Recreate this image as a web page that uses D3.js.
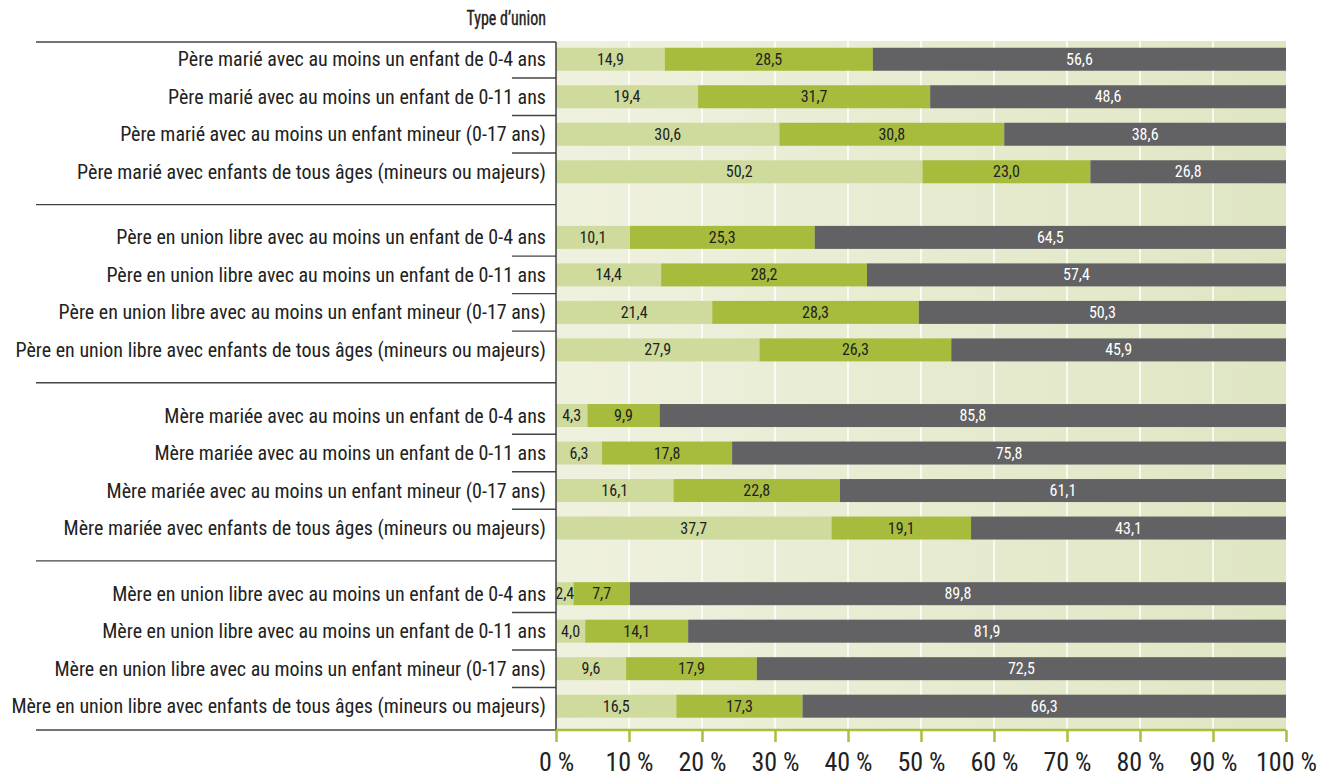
<!DOCTYPE html>
<html>
<head>
<meta charset="utf-8">
<script src="https://cdn.jsdelivr.net/npm/d3@7"></script>
<style>
  body { margin: 0; background: #fff; }
  text { font-family: "Liberation Sans Narrow", "Arial Narrow", "Roboto Condensed", sans-serif; }
</style>
</head>
<body>
<div id="chart"></div>
<script>
// Categories (rows, top to bottom)
var labels = [
  "Père marié avec au moins un enfant de 0-4 ans",
  "Père marié avec au moins un enfant de 0-11 ans",
  "Père marié avec au moins un enfant mineur (0-17 ans)",
  "Père marié avec enfants de tous âges (mineurs ou majeurs)",
  "Père en union libre avec au moins un enfant de 0-4 ans",
  "Père en union libre avec au moins un enfant de 0-11 ans",
  "Père en union libre avec au moins un enfant mineur (0-17 ans)",
  "Père en union libre avec enfants de tous âges (mineurs ou majeurs)",
  "Mère mariée avec au moins un enfant de 0-4 ans",
  "Mère mariée avec au moins un enfant de 0-11 ans",
  "Mère mariée avec au moins un enfant mineur (0-17 ans)",
  "Mère mariée avec enfants de tous âges (mineurs ou majeurs)",
  "Mère en union libre avec au moins un enfant de 0-4 ans",
  "Mère en union libre avec au moins un enfant de 0-11 ans",
  "Mère en union libre avec au moins un enfant mineur (0-17 ans)",
  "Mère en union libre avec enfants de tous âges (mineurs ou majeurs)"
];

// Series values (%)
var serieA = [14.9, 19.4, 30.6, 50.2, 10.1, 14.4, 21.4, 27.9, 4.3, 6.3, 16.1, 37.7, 2.4, 4.0, 9.6, 16.5];
var serieB = [28.5, 31.7, 30.8, 23.0, 25.3, 28.2, 28.3, 26.3, 9.9, 17.8, 22.8, 19.1, 7.7, 14.1, 17.9, 17.3];
var serieC = [56.6, 48.6, 38.6, 26.8, 64.5, 57.4, 50.3, 45.9, 85.8, 75.8, 61.1, 43.1, 89.8, 81.9, 72.5, 66.3];

var xTicks = [0, 10, 20, 30, 40, 50, 60, 70, 80, 90, 100];
var axisTitle = "Type d’union";

var rowsPerGroup = 4;
var groupStep = 4.75; // row units between group starts

var svgWidth = 1325, svgHeight = 776;
var plot = { left: 556, right: 1286, top: 42, bottom: 730 };

var colors = { a: "#cfdb9d", b: "#a7bc3d", c: "#626264" };
var textColors = { a: "#222", b: "#222", c: "#fff" };

var data = labels.map((l, i) => ({
  label: l, a: serieA[i], b: serieB[i], c: serieC[i],
  pos: Math.floor(i / rowsPerGroup) * groupStep + (i % rowsPerGroup)
}));

var svg = d3.select("#chart").append("svg")
  .attr("width", svgWidth).attr("height", svgHeight);

var x = d3.scaleLinear().domain([0, 1]).range([plot.left, plot.right]);
var xPct = d3.scaleLinear().domain([0, 100]).range([plot.left, plot.right]);
var lastPos = data[data.length - 1].pos;
var y = d3.scaleLinear().domain([-0.46, lastPos + 0.635]).range([plot.top, plot.bottom]);
var barH = 23;

// Background gradient
var defs = svg.append("defs");
var grad = defs.append("linearGradient").attr("id", "bg").attr("x1", "0").attr("x2", "1");
grad.append("stop").attr("offset", "0").attr("stop-color", "#eff1df");
grad.append("stop").attr("offset", "1").attr("stop-color", "#dfe6c3");

svg.append("rect")
  .attr("x", plot.left).attr("y", plot.top - 1)
  .attr("width", plot.right - plot.left).attr("height", plot.bottom - plot.top + 1)
  .attr("fill", "url(#bg)");

// Gridlines
svg.append("g").selectAll("line")
  .data(xTicks.filter(t => t > 0 && t < 100))
  .enter().append("line")
  .attr("x1", d => xPct(d)).attr("x2", d => xPct(d))
  .attr("y1", plot.top - 1).attr("y2", plot.bottom)
  .attr("stroke", "#fff").attr("stroke-width", 1.5);

// Stacked bars
var keys = ["a", "b", "c"];
var stacked = d3.stack().keys(keys).offset(d3.stackOffsetExpand)(data);

var layers = svg.append("g").selectAll("g")
  .data(stacked).enter().append("g")
  .attr("fill", d => colors[d.key]);

layers.selectAll("rect")
  .data(d => d).enter().append("rect")
  .attr("x", d => x(d[0]))
  .attr("width", d => x(d[1]) - x(d[0]))
  .attr("y", d => y(d.data.pos) - barH / 2)
  .attr("height", barH);

// Value labels
stacked.forEach(layer => {
  svg.append("g").selectAll("text")
    .data(layer).enter().append("text")
    .attr("x", d => (x(d[0]) + x(d[1])) / 2)
    .attr("y", d => y(d.data.pos) + 5.5)
    .attr("text-anchor", "middle")
    .attr("font-size", 16)
    .attr("fill", textColors[layer.key])
    .text(d => d3.format(".1f")(d.data[layer.key]).replace(".", ","));
});

// Category labels
svg.append("g").selectAll("text")
  .data(data).enter().append("text")
  .attr("x", 546)
  .attr("y", d => y(d.pos) + 7)
  .attr("text-anchor", "end")
  .attr("font-size", 20)
  .attr("fill", "#222")
  .text(d => d.label);

// Title
svg.append("text")
  .attr("x", 546).attr("y", 25)
  .attr("text-anchor", "end")
  .attr("font-size", 19.5)
  .attr("fill", "#222")
  .attr("stroke", "#222")
  .attr("stroke-width", 0.35)
  .attr("transform", "translate(546,0) scale(0.82,1) translate(-546,0)")
  .text(axisTitle);

// Row separators (short) and group separators (long)
var seps = [];
data.forEach((d, i) => {
  if (i % rowsPerGroup !== rowsPerGroup - 1) seps.push({ y: y(d.pos + 0.5), long: false });
});
var nGroups = labels.length / rowsPerGroup;
seps.push({ y: plot.top, long: true });
seps.push({ y: plot.bottom, long: true });
for (var g = 1; g < nGroups; g++) {
  seps.push({ y: y(((g - 1) * groupStep + rowsPerGroup - 1 + g * groupStep) / 2), long: true });
}

svg.append("g").selectAll("line")
  .data(seps).enter().append("line")
  .attr("x1", d => d.long ? 36 : 512)
  .attr("x2", plot.left)
  .attr("y1", d => d.y)
  .attr("y2", d => d.y)
  .attr("stroke", "#444").attr("stroke-width", 1.4);

// Vertical axis line
svg.append("line")
  .attr("x1", plot.left).attr("x2", plot.left)
  .attr("y1", plot.top).attr("y2", plot.bottom)
  .attr("stroke", "#333").attr("stroke-width", 1.4);

// Bottom axis
var bottomAxis = d3.axisBottom(xPct)
  .tickValues(xTicks)
  .tickSize(12)
  .tickFormat(d => d + " %");

var xAxisGroup = svg.append("g")
  .attr("transform", `translate(0, ${plot.bottom})`)
  .call(bottomAxis);

xAxisGroup.select(".domain").attr("stroke", "#a9bf3c").attr("stroke-width", 2.5)
  .attr("d", `M${plot.left},0H${plot.right}`);
xAxisGroup.selectAll(".tick line").attr("stroke", "#a9bf3c").attr("stroke-width", 2.5);
xAxisGroup.selectAll(".tick text")
  .attr("font-family", "Liberation Sans Narrow, Arial Narrow, Roboto Condensed, sans-serif")
  .attr("font-size", 26)
  .attr("fill", "#222")
  .attr("dy", 0)
  .attr("y", 41);
</script>
</body>
</html>
